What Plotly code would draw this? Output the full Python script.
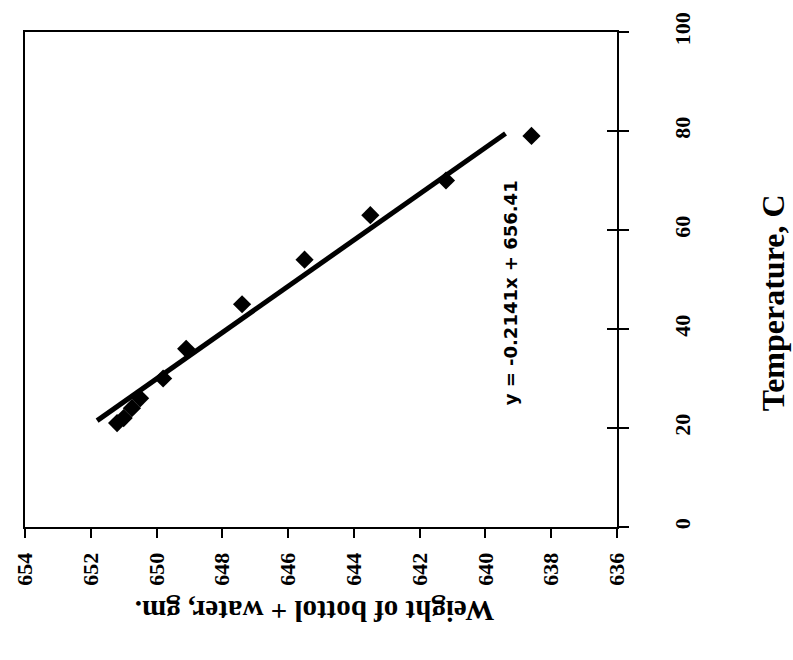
import plotly.graph_objects as go

# Data (temperature C, weight of bottle + water gm)
temperature = [21, 22, 24, 26, 30, 36, 45, 54, 63, 70, 79]
weight = [651.2, 651.0, 650.75, 650.5, 649.8, 649.1, 647.4, 645.5, 643.5, 641.2, 638.6]
slope = -0.2141
intercept = 656.41
x_ticks = [654, 652, 650, 648, 646, 644, 642, 640, 638, 636]
y_ticks = [0, 20, 40, 60, 80, 100]

t_line = [min(temperature) + 0.5, max(temperature) + 0.5]
w_line = [slope * t + intercept for t in t_line]

fig = go.Figure()
fig.add_trace(go.Scatter(x=w_line, y=t_line, mode="lines",
                         line=dict(color="black", width=5), showlegend=False))
fig.add_trace(go.Scatter(x=weight, y=temperature, mode="markers",
                         marker=dict(symbol="diamond", size=14, color="black"),
                         showlegend=False))
fig.add_trace(go.Scatter(x=[weight[0]], y=[temperature[0]], mode="markers",
                         marker=dict(opacity=0), yaxis="y2", xaxis="x2",
                         showlegend=False, hoverinfo="skip"))
fig.add_trace(go.Scatter(x=[weight[0]], y=[temperature[0]], mode="markers",
                         marker=dict(opacity=0), yaxis="y3",
                         showlegend=False, hoverinfo="skip"))

tickfont = dict(family="Liberation Serif", size=22, color="black", weight="bold")

fig.update_layout(
    width=793, height=660,
    margin=dict(l=14, r=176, t=25, b=133),
    paper_bgcolor="white", plot_bgcolor="white",
    xaxis=dict(range=[654, 636], tickvals=x_ticks, ticks="outside", ticklen=9,
               tickwidth=2, tickcolor="black", showline=True, linecolor="black",
               linewidth=2, mirror=False, showgrid=False, zeroline=False,
               tickangle=-90, tickfont=tickfont, ticklabelstandoff=6),
    xaxis2=dict(range=[654, 636], overlaying="x", side="top", showticklabels=False,
                ticks="", showline=True, linecolor="black", linewidth=2,
                showgrid=False, zeroline=False),
    yaxis=dict(range=[0, 100], tickvals=y_ticks, side="right", ticks="outside",
               ticklen=10, tickwidth=2, tickcolor="black", showline=True,
               linecolor="black", linewidth=2, showgrid=False, zeroline=False,
               tickangle=-90, tickfont=tickfont, ticklabelstandoff=35),
    yaxis2=dict(range=[0, 100], tickvals=y_ticks, overlaying="y", side="left",
                ticks="", showticklabels=False, showline=True, linecolor="black",
                linewidth=2, showgrid=False, zeroline=False),
    yaxis3=dict(range=[0, 100], tickvals=y_ticks, overlaying="y",
                side="right", ticks="inside", ticklen=10, tickwidth=2,
                tickcolor="black", showticklabels=False, showline=False,
                showgrid=False, zeroline=False),
)

fig.add_annotation(text="y = -0.2141x + 656.41", x=508, y=289, showarrow=False,
                   textangle=-90,
                   font=dict(family="DejaVu Sans", size=18, color="black", weight="bold"))
fig.add_annotation(text="Temperature, C", x=776, y=300, showarrow=False, textangle=-90,
                   font=dict(family="Liberation Serif", size=32, color="black", weight="bold"))
fig.add_annotation(text="Weight of bottol + water, gm.", x=309, y=612, showarrow=False,
                   textangle=180,
                   font=dict(family="Liberation Serif", size=29, color="black", weight="bold"))

# convert pixel-based annotation positions to paper coords
pw, ph = 793 - 14 - 176, 660 - 25 - 133
for a in fig.layout.annotations:
    px, py = a.x, a.y
    a.xref = "paper"; a.yref = "paper"
    a.x = (px - 14) / pw
    a.y = (660 - 133 - py) / ph
    a.xanchor = "center"; a.yanchor = "middle"

fig.write_html("out.html")
